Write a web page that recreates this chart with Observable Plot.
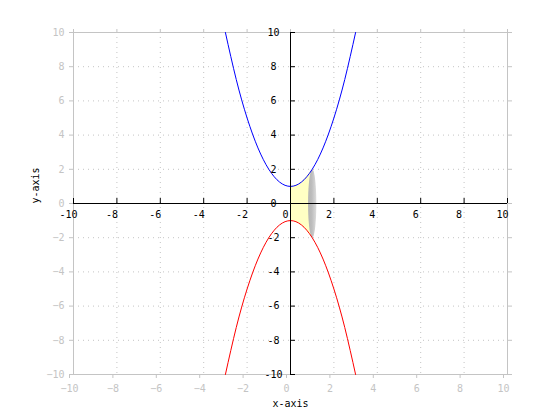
<!DOCTYPE html>
<html>
<head>
<meta charset="utf-8">
<script src="https://cdn.jsdelivr.net/npm/d3@7"></script>
<script src="https://cdn.jsdelivr.net/npm/@observablehq/plot@0.6"></script>
<style>
  html, body { margin: 0; padding: 0; background: #fff; }
  #chart svg { display: block; }
</style>
</head>
<body>
<div id="chart"></div>
<script>
// ---- data ----
const ticks = [-10, -8, -6, -4, -2, 0, 2, 4, 6, 8, 10];
const gridTicks = [-8, -6, -4, -2, 0, 2, 4, 6, 8];
const curveX = [-3, -2.5, -2, -1.5, -1, -0.5, 0, 0.5, 1, 1.5, 2, 2.5, 3];
const upperY = [10, 7.25, 5, 3.25, 2, 1.25, 1, 1.25, 2, 3.25, 5, 7.25, 10];
const lowerY = [-10, -7.25, -5, -3.25, -2, -1.25, -1, -1.25, -2, -3.25, -5, -7.25, -10];
const fillX = [0, 0.25, 0.5, 0.75, 1];
const fillTop = [1, 1.0625, 1.25, 1.5625, 2];
const fillBottom = [-1, -1.0625, -1.25, -1.5625, -2];
const ellipseCenterX = 1, ellipseCenterY = 0, ellipseRx = 0.19, ellipseRy = 2;

const upper = curveX.map((x, i) => ({x, y: upperY[i]}));
const lower = curveX.map((x, i) => ({x, y: lowerY[i]}));
const fill = fillX.map((x, i) => ({x, y1: fillBottom[i], y2: fillTop[i]}));
const ellipse = d3.range(0, 73).map(k => {
  const t = k / 72 * 2 * Math.PI;
  return {x: ellipseCenterX + ellipseRx * Math.cos(t), y: ellipseCenterY + ellipseRy * Math.sin(t)};
});

const gray = "#c4c4c4";
const font = "DejaVu Sans Mono";

const chart = Plot.plot({
  width: 560,
  height: 420,
  marginLeft: 73,
  marginRight: 53,
  marginTop: 32,
  marginBottom: 46,
  style: {fontFamily: font, fontSize: "10px", background: "#fff"},
  x: {domain: [-10, 10]},
  y: {domain: [-10, 10]},
  marks: [
    // dotted grid
    Plot.ruleX(gridTicks, {stroke: gray, strokeDasharray: "1,4"}),
    Plot.ruleY(gridTicks, {stroke: gray, strokeDasharray: "1,4"}),
    // outer frame & ticks
    Plot.frame({stroke: gray}),
    Plot.axisX(ticks, {anchor: "bottom", tickSize: 4, tickPadding: 6, dx: -4, color: gray, label: null}),
    Plot.axisX(ticks, {anchor: "top", tickSize: 4, text: null, color: gray, label: null}),
    Plot.axisY(ticks, {anchor: "left", tickSize: 4, tickPadding: 5, color: gray, label: null}),
    Plot.axisY(ticks, {anchor: "right", tickSize: 4, text: null, color: gray, label: null}),
    // shaded region and disc
    Plot.areaY(fill, {x: "x", y1: "y1", y2: "y2", fill: "#ffffc4", curve: "natural"}),
    Plot.line(ellipse, {x: "x", y: "y", fill: "url(#discGrad)", stroke: "none"}),
    // curves
    Plot.line(upper, {x: "x", y: "y", stroke: "#0000ff", strokeWidth: 1, curve: "natural"}),
    Plot.line(lower, {x: "x", y: "y", stroke: "#ff0000", strokeWidth: 1, curve: "natural"}),
    // black center axes
    Plot.ruleY([0], {stroke: "#000"}),
    Plot.ruleX([0], {stroke: "#000"}),
    Plot.ruleX(ticks, {x: d => d, y1: 0, y2: 0, insetTop: -5, stroke: "#000"}),
    Plot.ruleY(ticks, {y: d => d, x1: 0, x2: 0, insetRight: -5, stroke: "#000"}),
    Plot.text(ticks, {x: d => d, y: 0, text: d => String(d), dy: 11, dx: -5, fill: "#000"}),
    Plot.text(ticks, {x: 0, y: d => d, text: d => String(d), dx: -17, fill: "#000"}),
    // axis titles
    Plot.text(["x-axis"], {frameAnchor: "bottom", text: d => d, dy: 32, fill: "#000", fontSize: 10}),
    Plot.text(["y-axis"], {frameAnchor: "left", text: d => d, rotate: -90, dx: -38, fill: "#000", fontSize: 10})
  ]
});

// gradient for the disc
const svg = d3.select(chart);
const defs = svg.insert("defs", ":first-child");
const g = defs.append("linearGradient").attr("id", "discGrad").attr("x1", "0").attr("x2", "1").attr("y1", "0").attr("y2", "0");
g.append("stop").attr("offset", "0%").attr("stop-color", "#b4b4b4");
g.append("stop").attr("offset", "45%").attr("stop-color", "#bdbdbd");
g.append("stop").attr("offset", "100%").attr("stop-color", "#dcdcdc");

document.getElementById("chart").appendChild(chart);
</script>
</body>
</html>
